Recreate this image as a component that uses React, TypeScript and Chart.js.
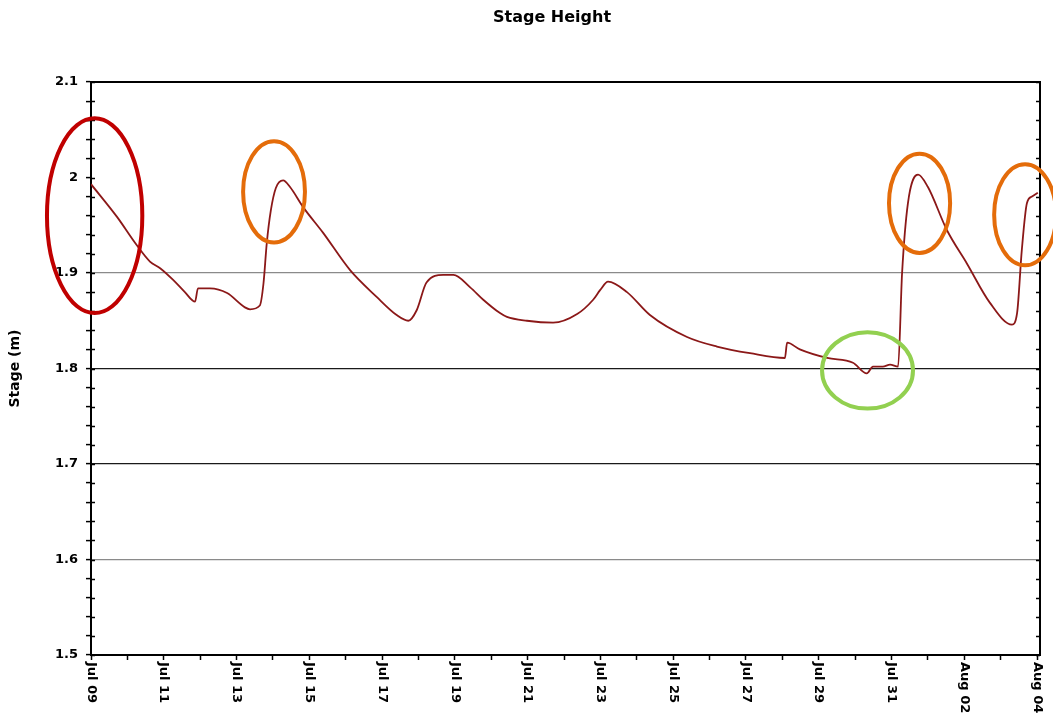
import React, { useEffect, useRef } from 'react';
import { Chart, registerables } from 'chart.js';

Chart.register(...registerables);

// Days elapsed since Jul 09 00:00
const stageDays = [
  0, 0.71, 1.26, 1.62, 1.9, 2.25, 2.58, 2.86, 2.94, 3.27, 3.74, 4.23, 4.37, 4.64,
  4.74, 4.83, 4.94, 5.08, 5.28, 5.47, 5.83, 6.38, 7.12, 7.85, 8.4, 8.72, 8.95,
  9.22, 9.68, 9.96, 10.42, 10.78, 11.24, 11.43, 11.98, 12.7, 13.36, 13.8, 13.99,
  14.21, 14.73, 15.36, 16.38, 17.2, 18.11, 19.07, 19.13, 19.48, 20.23, 20.94,
  21.32, 21.49, 21.76, 21.96, 22.18, 22.29, 22.45, 22.73, 23.0, 23.52, 24.07,
  24.7, 25.31, 25.45, 25.58, 25.72, 25.86, 26.02,
];
// Stage (m)
const stageValues = [
  1.993, 1.959, 1.929, 1.912, 1.905, 1.893, 1.88, 1.87, 1.884, 1.884, 1.879, 1.864, 1.862, 1.866,
  1.889, 1.931, 1.965, 1.989, 1.997, 1.99, 1.969, 1.942, 1.903, 1.875, 1.856, 1.85, 1.861,
  1.89, 1.898, 1.898, 1.885, 1.872, 1.858, 1.854, 1.85, 1.848, 1.857, 1.872, 1.882,
  1.891, 1.88, 1.856, 1.833, 1.823, 1.816, 1.811, 1.827, 1.82, 1.811, 1.806,
  1.795, 1.802, 1.802, 1.804, 1.802, 1.9, 1.973, 2.003, 1.99, 1.945, 1.91,
  1.869, 1.846, 1.858, 1.924, 1.973, 1.98, 1.984,
];

const tickDays = [0, 2, 4, 6, 8, 10, 12, 14, 16, 18, 20, 22, 24, 26];
const tickLabels = [
  'Jul 09', 'Jul 11', 'Jul 13', 'Jul 15', 'Jul 17', 'Jul 19', 'Jul 21',
  'Jul 23', 'Jul 25', 'Jul 27', 'Jul 29', 'Jul 31', 'Aug 02', 'Aug 04',
];

// Highlight ellipses, in data units
const ellipseDays = [0.1, 5.03, 22.77, 25.67, 21.34];
const ellipseStages = [1.96, 1.985, 1.973, 1.961, 1.798];
const ellipseDayRadii = [1.31, 0.85, 0.84, 0.85, 1.25];
const ellipseStageRadii = [0.102, 0.053, 0.052, 0.053, 0.04];
const ellipseColors = ['#C00000', '#E46C0A', '#E46C0A', '#E46C0A', '#92D050'];

const chartTitle = 'Stage Height';
const yTitle = 'Stage (m)';

const FONT = '"DejaVu Sans", "Liberation Sans", Arial, sans-serif';

const overlayPlugin = {
  id: 'overlay',
  afterDraw(chart: any) {
    const { ctx, chartArea: a, scales } = chart;
    const xs = scales.x;
    const ys = scales.y;
    ctx.save();
    // top & right frame
    ctx.strokeStyle = '#000';
    ctx.lineWidth = 2;
    ctx.beginPath();
    ctx.moveTo(a.left, a.top);
    ctx.lineTo(a.right, a.top);
    ctx.lineTo(a.right, a.bottom);
    ctx.stroke();
    // inward tick marks on left and right
    ctx.lineWidth = 1.5;
    ys.ticks.forEach((t: any) => {
      const py = Math.round(ys.getPixelForValue(t.value)) + 0.5;
      ctx.beginPath();
      ctx.moveTo(a.left, py);
      ctx.lineTo(a.left + 4, py);
      ctx.moveTo(a.right - 4, py);
      ctx.lineTo(a.right, py);
      ctx.stroke();
    });
    // ellipses
    ctx.lineWidth = 4;
    ellipseDays.forEach((d, i) => {
      const cx = xs.getPixelForValue(d);
      const cy = ys.getPixelForValue(ellipseStages[i]);
      const rx = Math.abs(xs.getPixelForValue(d + ellipseDayRadii[i]) - cx);
      const ry = Math.abs(ys.getPixelForValue(ellipseStages[i] + ellipseStageRadii[i]) - cy);
      ctx.strokeStyle = ellipseColors[i];
      ctx.beginPath();
      ctx.ellipse(cx, cy, rx, ry, 0, 0, Math.PI * 2);
      ctx.stroke();
    });
    // x tick labels, rotated clockwise
    ctx.fillStyle = '#000';
    ctx.font = 'bold 13px ' + FONT;
    tickDays.forEach((d, i) => {
      const px = xs.getPixelForValue(d);
      ctx.save();
      ctx.translate(px, a.bottom + 7);
      ctx.rotate(Math.PI / 2);
      ctx.textAlign = 'left';
      ctx.textBaseline = 'middle';
      ctx.fillText(tickLabels[i], 0, 0);
      ctx.restore();
    });
    // chart title
    ctx.font = 'bold 16px ' + FONT;
    ctx.textAlign = 'center';
    ctx.textBaseline = 'middle';
    ctx.fillText(chartTitle, 552, 18);
    ctx.restore();
  },
};

export default function App() {
  const ref = useRef<HTMLCanvasElement | null>(null);

  useEffect(() => {
    if (!ref.current) return;
    const points = stageDays.map((d, i) => ({ x: d, y: stageValues[i] }));
    const chart = new Chart(ref.current, {
      type: 'line',
      data: {
        datasets: [
          {
            label: 'Stage',
            data: points,
            borderColor: '#8B1818',
            borderWidth: 1.8,
            pointRadius: 0,
            cubicInterpolationMode: 'monotone',
            fill: false,
          },
        ],
      },
      options: {
        animation: false,
        responsive: false,
        devicePixelRatio: 1,
        layout: { padding: { top: 82, right: 13, left: 0, bottom: 0 } },
        plugins: {
          legend: { display: false },
          title: { display: false },
          tooltip: { enabled: false },
        },
        scales: {
          x: {
            type: 'linear',
            min: 0,
            max: 26.08,
            afterBuildTicks: (s: any) => {
              const t = [];
              for (let d = 0; d <= 26; d++) t.push({ value: d });
              s.ticks = t;
            },
            afterFit: (s: any) => {
              s.height = 62;
            },
            ticks: { display: false, autoSkip: false },
            grid: {
              drawOnChartArea: false,
              drawTicks: true,
              tickLength: 5,
              tickColor: '#000',
              tickWidth: 1.5,
            },
            border: { display: true, color: '#000', width: 2 },
          },
          y: {
            type: 'linear',
            min: 1.5,
            max: 2.1,
            afterFit: (s: any) => {
              s.width = 91;
            },
            ticks: {
              stepSize: 0.02,
              autoSkip: false,
              padding: 8,
              color: '#000',
              font: { family: FONT, size: 13, weight: 'bold' },
              callback: (v: any) => {
                const n = Number(v) * 10;
                if (Math.abs(n - Math.round(n)) < 1e-6) return String(Math.round(n) / 10);
                return '';
              },
            },
            grid: {
              drawTicks: true,
              tickLength: 5,
              tickColor: '#000',
              tickWidth: 1.5,
              lineWidth: 1.2,
              color: (c: any) => {
                const v = c.tick ? c.tick.value : 0;
                if (Math.abs(v - 1.9) < 1e-6 || Math.abs(v - 1.6) < 1e-6) return '#8a8a8a';
                if (Math.abs(v - 1.8) < 1e-6 || Math.abs(v - 1.7) < 1e-6) return '#1a1a1a';
                return 'rgba(0,0,0,0)';
              },
            },
            border: { display: true, color: '#000', width: 2 },
            title: {
              display: true,
              text: yTitle,
              color: '#000',
              padding: { top: 7, bottom: 0 },
              font: { family: FONT, size: 14, weight: 'bold' },
            },
          },
        },
      },
      plugins: [overlayPlugin],
    } as any);
    return () => chart.destroy();
  }, []);

  return (
    <div style={{ position: 'fixed', left: 0, top: 0, width: 1053, height: 717, background: '#fff' }}>
      <canvas ref={ref} width={1053} height={717} />
    </div>
  );
}
